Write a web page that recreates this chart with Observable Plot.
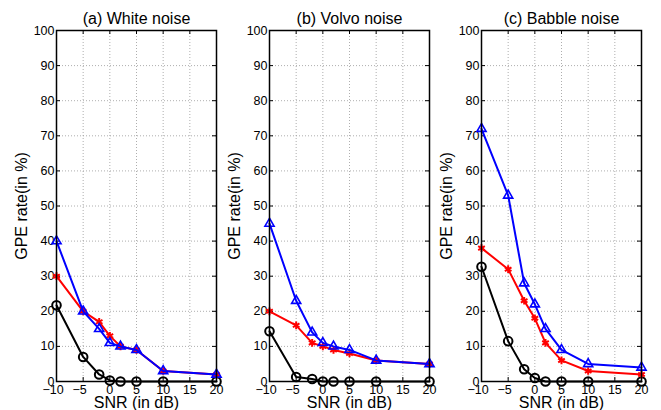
<!DOCTYPE html>
<html><head><meta charset="utf-8">
<script src="https://cdn.jsdelivr.net/npm/d3@7"></script>
<script src="https://cdn.jsdelivr.net/npm/@observablehq/plot@0.6"></script>
<style>
body{margin:0;background:#fff;}
#chart{position:relative;width:661px;height:410px;font-family:"Liberation Sans",Arial,sans-serif;}
#chart svg{position:absolute;top:0;max-width:none;}
</style></head><body><div id="chart"></div>
<script>
const snr = [-10, -5, -2, 0, 2, 5, 10, 20];
const xTicks = [-10, -5, 0, 5, 10, 15, 20];
const yTicks = [0, 10, 20, 30, 40, 50, 60, 70, 80, 90, 100];
const titles = ["(a) White noise", "(b) Volvo noise", "(c) Babble noise"];
const xLabel = "SNR (in dB)";
const yLabel = "GPE rate(in %)";

const whiteBlack = [21.7, 7, 2, 0.3, 0, 0, 0, 0];
const whiteRed   = [30, 20, 17, 13, 10, 9, 3, 2];
const whiteBlue  = [40, 20, 15, 11, 10, 9, 3, 2];

const volvoBlack = [14.3, 1.3, 0.7, 0, 0, 0, 0, 0];
const volvoRed   = [20, 16, 11, 10, 9, 8, 6, 5];
const volvoBlue  = [45, 23, 14, 11, 10, 9, 6, 5];

const babbleBlack = [32.7, 11.5, 3.5, 1, 0, 0, 0, 0];
const babbleRed   = [38, 32, 23, 18, 11, 6, 3, 2];
const babbleBlue  = [72, 53, 28, 22, 15, 9, 5, 4];

const panels = [
  [whiteBlack, whiteRed, whiteBlue],
  [volvoBlack, volvoRed, volvoBlue],
  [babbleBlack, babbleRed, babbleBlue]
];
const seriesStyle = [
  {color: "#000000", symbol: "circle", r: 4.3, sw: 2},
  {color: "#ff0000", symbol: "asterisk", r: 3.6, sw: 2},
  {color: "#0000ff", symbol: "triangle", r: 3.4, sw: 1.6}
];

const W = 220, H = 410, ML = 56, MR = 4, MT = 30, MB = 29;
const FW = W - ML - MR, FH = H - MT - MB;
const offsets = [0, 212.5, 425];
const font = "'Liberation Sans', Arial, sans-serif";
const container = document.getElementById("chart");
const fmtX = d => d < 0 ? "\u2212" + Math.abs(d) + "\u00a0\u00a0" : String(d);

panels.forEach((series, pi) => {
  const marks = [
    Plot.gridX(xTicks, {stroke: "#999", strokeOpacity: 1, strokeDasharray: "1,2", strokeWidth: 0.8}),
    Plot.gridY(yTicks, {stroke: "#999", strokeOpacity: 1, strokeDasharray: "1,2", strokeWidth: 0.8}),
    Plot.tickX(xTicks, {x: d => d, insetTop: FH - 4, stroke: "#000"}),
    Plot.tickX(xTicks, {x: d => d, insetBottom: FH - 4, stroke: "#000"}),
    Plot.tickY(yTicks, {y: d => d, insetRight: FW - 4, stroke: "#000"}),
    Plot.tickY(yTicks, {y: d => d, insetLeft: FW - 4, stroke: "#000"}),
    Plot.axisX(xTicks, {tickSize: 0, tickPadding: 4, label: null, fontSize: 12.5, tickFormat: fmtX}),
    Plot.axisY(yTicks, {tickSize: 0, tickPadding: 2, label: null, fontSize: 12.5})
  ];
  series.forEach((vals, si) => {
    const st = seriesStyle[si];
    const rows = snr.map((x, i) => ({snr: x, value: vals[i]}));
    marks.push(Plot.line(rows, {x: "snr", y: "value", stroke: st.color, strokeWidth: 2}));
    marks.push(Plot.dot(rows, {x: "snr", y: "value", symbol: () => st.symbol, r: st.r, stroke: st.color, fill: "none", strokeWidth: st.sw}));
  });
  marks.push(Plot.frame({stroke: "#000", strokeWidth: 1.5}));
  marks.push(Plot.text([titles[pi]], {frameAnchor: "top", lineAnchor: "middle", textAnchor: "middle", dy: -11.6, fontSize: 16, fill: "#000"}));
  marks.push(Plot.text([xLabel], {frameAnchor: "bottom", lineAnchor: "middle", textAnchor: "middle", dy: 21.4, fontSize: 16, fill: "#000"}));
  marks.push(Plot.text([yLabel], {frameAnchor: "left", lineAnchor: "middle", textAnchor: "middle", dx: -34.6, rotate: -90, fontSize: 16, fill: "#000"}));

  const svg = Plot.plot({
    width: W, height: H,
    marginLeft: ML, marginRight: MR, marginTop: MT, marginBottom: MB,
    x: {domain: [-10, 20]},
    y: {domain: [0, 100]},
    symbol: {type: "identity"},
    style: {background: "transparent", fontFamily: font, color: "#000", overflow: "visible"},
    marks
  });
  svg.style.left = offsets[pi] + "px";
  container.appendChild(svg);
});
</script></body></html>
